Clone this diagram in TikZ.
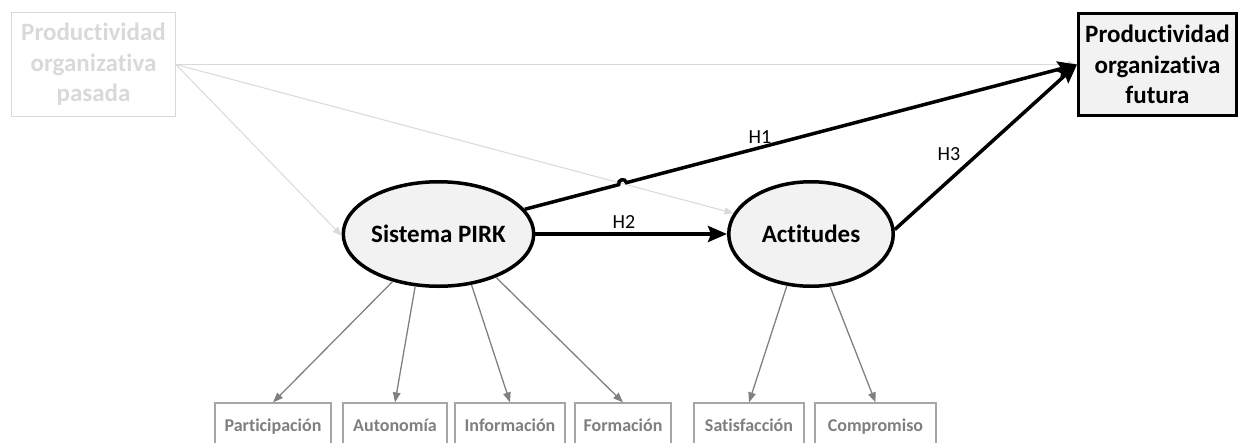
\documentclass[tikz,border=0pt]{standalone}
\usepackage{fontspec}
\setmainfont{Carlito}[Ligatures={NoCommon,NoContextual}]
\usetikzlibrary{shapes.geometric,arrows.meta,calc}
\definecolor{fillg}{HTML}{F2F2F2}
\definecolor{pastg}{HTML}{D9D9D9}
\definecolor{indg}{HTML}{A6A6A6}
\definecolor{indtxt}{HTML}{7F7F7F}
\definecolor{arrg}{HTML}{808080}
\tikzset{
  bigfont/.style={font=\bfseries\fontsize{25}{30.5}\selectfont},
  lat/.style={ellipse, draw=black, line width=3.5pt, fill=fillg, inner sep=0pt, bigfont},
  pastbox/.style={rectangle, draw=pastg, line width=1pt, text=pastg, align=center, inner sep=0pt, bigfont},
  futbox/.style={rectangle, draw=black, line width=3pt, fill=fillg, align=center, inner sep=0pt, bigfont},
  ind/.style={rectangle, draw=indg, line width=1.2pt, text=indtxt, inner sep=0pt, minimum height=44pt,
     text height=17pt, text depth=4pt, font=\bfseries\fontsize{18}{21}\selectfont},
  thinarrow/.style={draw=pastg, line width=1pt, -{Triangle[length=9pt,width=7pt]}},
  load/.style={draw=arrg, line width=1.3pt, -{Triangle[length=10pt,width=7.5pt]}},
  hyp/.style={draw=black, line width=3.5pt, -{Stealth[length=19pt,width=16pt,inset=3pt]}},
  hlab/.style={font=\fontsize{20}{24}\selectfont, inner sep=0pt}
}
\begin{document}
\begin{tikzpicture}[x=1pt,y=-1pt]
\useasboundingbox (0,0) rectangle (1241,442);
\clip (0,0) rectangle (1241,442);
% nodes
\node[pastbox, minimum width=164pt, minimum height=104pt] (past) at (93.5,64.5)
  {Productividad\\organizativa\\pasada};
\node[futbox, minimum width=158pt, minimum height=102pt] (fut) at (1157.5,64.5)
  {Productividad\\organizativa\\futura};
\node[lat, minimum width=163.5pt, minimum height=104.5pt] (pirk) at (438.5,234) {Sistema PIRK};
\node[lat, minimum width=164.5pt, minimum height=104.5pt] (act) at (811,234) {Actitudes};
\node[ind, minimum width=116pt] (part) at (273,425) {Participación};
\node[ind, minimum width=104pt] (auto) at (395,425) {Autonomía};
\node[ind, minimum width=110pt] (info) at (510,425) {Información};
\node[ind, minimum width=96pt] (form) at (623,425) {Formación};
\node[ind, minimum width=110pt] (sat) at (749,425) {Satisfacción};
\node[ind, minimum width=121pt] (comp) at (875.5,425) {Compromiso};
% gray lines from past productivity
\draw[thinarrow] (past.east) -- (fut.west);
\draw[thinarrow] (past.east) -- (act.165);
\draw[thinarrow] (past.east) -- (pirk.181);
% loadings
\draw[load] (pirk.226) -- (part.north);
\draw[load] (pirk.246) -- (auto.north);
\draw[load] (pirk.303) -- (info.north);
\draw[load] (pirk.323) -- (form.north);
\draw[load] (act.245) -- (sat.north);
\draw[load] (act.290) -- (comp.north);
% hypotheses
\coordinate (hop) at (intersection of pirk.16--fut.west and past.east--act.165);
\coordinate (hopA) at ($(hop)!4pt!(pirk.16)$);
\coordinate (hopB) at ($(hop)!4pt!(fut.west)$);
\coordinate (hc1) at ($(hopA)!5.3pt!90:(hop)$);
\coordinate (hc2) at ($(hopB)!5.3pt!-90:(hop)$);
\draw[hyp] (pirk.16) -- (hopA) .. controls (hc1) and (hc2) .. (hopB) -- (fut.west);
\draw[hyp] (pirk.east) -- (act.west);
\draw[hyp] (act.3) -- (fut.west);
\node[hlab] (h1) at (760,137) {H1};
\node[hlab] (h2) at (624,222) {H2};
\node[hlab] (h3) at (949,154) {H3};
\end{tikzpicture}
\end{document}
